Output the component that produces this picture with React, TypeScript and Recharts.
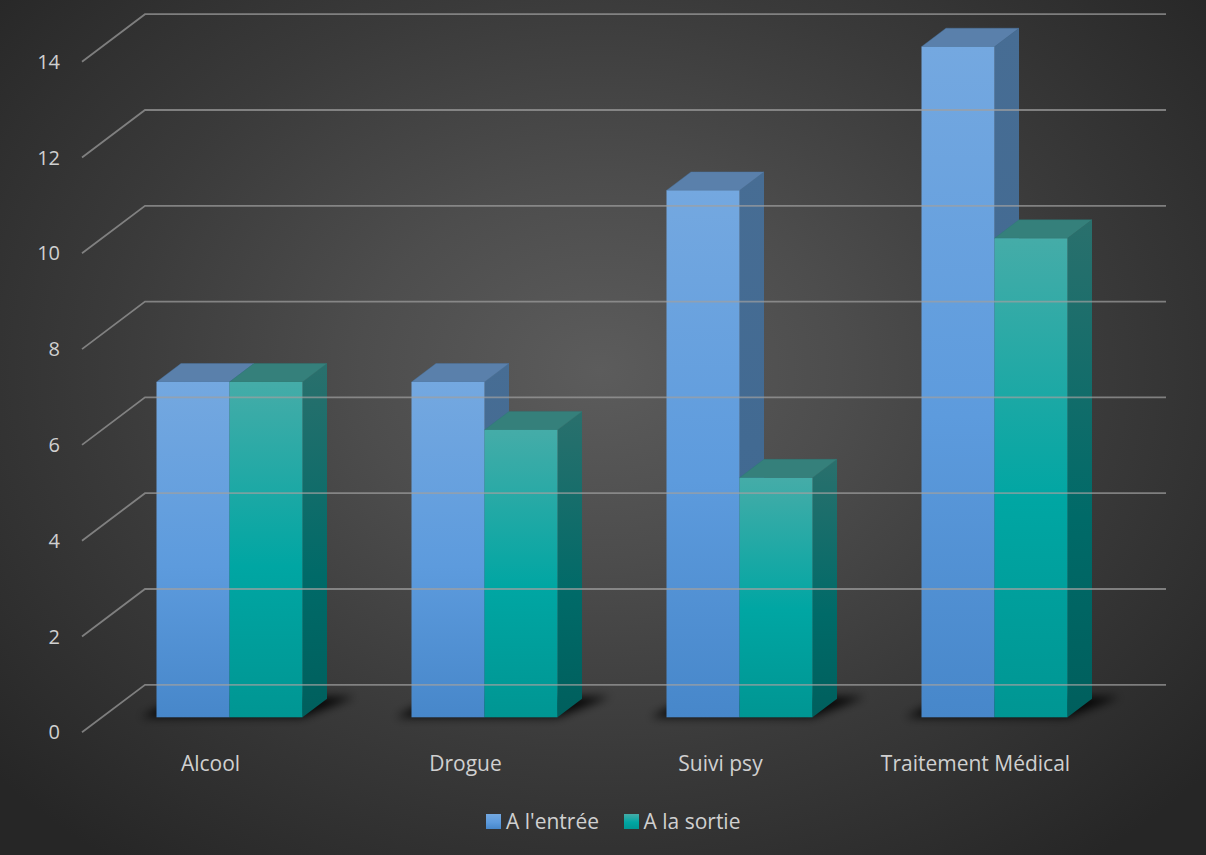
import React from "react";
import { BarChart, Bar, XAxis, YAxis, Legend } from "recharts";

const categories = ["Alcool", "Drogue", "Suivi psy", "Traitement Médical"];
const entree = [7, 7, 11, 14];
const sortie = [7, 6, 5, 10];
const yTicks = [0, 2, 4, 6, 8, 10, 12, 14];
const seriesNames = ["A l'entrée", "A la sortie"];

const data = categories.map((name, i) => ({ name, entree: entree[i], sortie: sortie[i] }));

const W = 1206;
const H = 855;
const DX = 24.5;
const DY = 18.5;
const FONT = "'Open Sans', sans-serif";
const TEXT = "#d0d0d0";

const Bar3D = (props: any) => {
  const { x, y, width, height, front, side, top, edge, shadow } = props;
  const b = y + height;
  const r = x + width;
  return (
    <g>
      {shadow ? (
        <polygon
          points={`${x - 16},${b} ${x + 2 * width},${b} ${x + 2 * width + DX + 28},${b - DY - 2} ${x + DX},${b - DY - 2}`}
          fill="#000"
          fillOpacity={0.9}
          filter="url(#floorShadow)"
        />
      ) : null}
      <polygon points={`${r},${y} ${r + DX},${y - DY} ${r + DX},${b - DY} ${r},${b}`} fill={side} />
      <polygon points={`${x},${y} ${x + DX},${y - DY} ${r + DX},${y - DY} ${r},${y}`} fill={top} stroke={edge} strokeWidth={0.4} />
      <rect x={x} y={y} width={width} height={height} fill={front} />
    </g>
  );
};

const YTick = (props: any) => {
  const { y, payload } = props;
  return (
    <g>
      <polyline
        points={`82,${y + 15} 145,${y - 32.5} 1166,${y - 32.5}`}
        fill="none"
        stroke="#a0a0a0"
        strokeWidth={1.8}
        strokeOpacity={0.7}
      />
      <text x={60} y={y + 14.5} textAnchor="end" dominantBaseline="central" fill={TEXT} fontSize={20} fontFamily={FONT}>
        {payload.value}
      </text>
    </g>
  );
};

const XTick = (props: any) => {
  const { x, payload } = props;
  return (
    <text x={x - 19} y={762.5} textAnchor="middle" dominantBaseline="central" fill={TEXT} fontSize={21} fontFamily={FONT}>
      {payload.value}
    </text>
  );
};

const LegendContent = () => (
  <div style={{ position: "relative", width: W, height: 30 }}>
    {seriesNames.map((n, i) => {
      const sx = i === 0 ? 486 : 623.5;
      return (
        <React.Fragment key={n}>
          <svg style={{ position: "absolute", left: sx, top: 0 }} width={15} height={15}>
            <rect width={15} height={15} fill={i === 0 ? "url(#frontBlue)" : "url(#frontGreen)"} />
          </svg>
          <span
            style={{
              position: "absolute",
              left: sx + 20,
              top: -5,
              lineHeight: "25px",
              color: TEXT,
              fontSize: 21,
              fontFamily: FONT,
              whiteSpace: "nowrap",
            }}
          >
            {n}
          </span>
        </React.Fragment>
      );
    })}
  </div>
);

export default function App() {
  return (
    <div
      style={{
        position: "absolute",
        left: 0,
        top: 0,
        width: W,
        height: H,
        background: "radial-gradient(ellipse 800px 620px at 600px 370px, #5c5c5c 0%, #4d4d4d 30%, #3a3a3a 62%, #262626 100%)",
      }}
    >
      <BarChart
        width={W}
        height={H}
        data={data}
        margin={{ top: 46.7, right: 84, bottom: 0, left: 0 }}
        barCategoryGap={54.5}
        barGap={0}
      >
        <defs>
          <linearGradient id="frontBlue" x1="0" y1="0" x2="0" y2="1">
            <stop offset="0%" stopColor="#74a8e0" />
            <stop offset="55%" stopColor="#5d9bdd" />
            <stop offset="100%" stopColor="#4787ca" />
          </linearGradient>
          <linearGradient id="frontGreen" x1="0" y1="0" x2="0" y2="1">
            <stop offset="0%" stopColor="#45aca8" />
            <stop offset="55%" stopColor="#00a6a3" />
            <stop offset="100%" stopColor="#009693" />
          </linearGradient>
          <linearGradient id="sideGreen" x1="0" y1="0" x2="0" y2="1">
            <stop offset="0%" stopColor="#2a706d" />
            <stop offset="60%" stopColor="#006a68" />
            <stop offset="100%" stopColor="#005f5d" />
          </linearGradient>
          <linearGradient id="sideBlue" x1="0" y1="0" x2="0" y2="1">
            <stop offset="0%" stopColor="#476d94" />
            <stop offset="100%" stopColor="#3d6790" />
          </linearGradient>
          <filter id="floorShadow" x="-30%" y="-100%" width="160%" height="300%">
            <feGaussianBlur stdDeviation="5" />
          </filter>
        </defs>
        <XAxis dataKey="name" axisLine={false} tickLine={false} interval={0} tick={<XTick />} height={107.7} />
        <YAxis
          domain={[0, 14]}
          ticks={yTicks}
          interval={0}
          width={102}
          axisLine={false}
          tickLine={false}
          tick={<YTick />}
        />
        <Legend
          verticalAlign="bottom"
          content={<LegendContent />}
          wrapperStyle={{ position: "absolute", left: 0, top: 814, width: W, height: 30 }}
        />
        <Bar
          dataKey="entree"
          name={seriesNames[0]}
          isAnimationActive={false}
          shape={(p: any) => (
            <Bar3D {...p} front="url(#frontBlue)" side="url(#sideBlue)" top="#5a80ab" edge="#4a76a6" shadow />
          )}
        />
        <Bar
          dataKey="sortie"
          name={seriesNames[1]}
          isAnimationActive={false}
          shape={(p: any) => (
            <Bar3D {...p} front="url(#frontGreen)" side="url(#sideGreen)" top="#35807b" edge="#2a7a76" />
          )}
        />
      </BarChart>
    </div>
  );
}
